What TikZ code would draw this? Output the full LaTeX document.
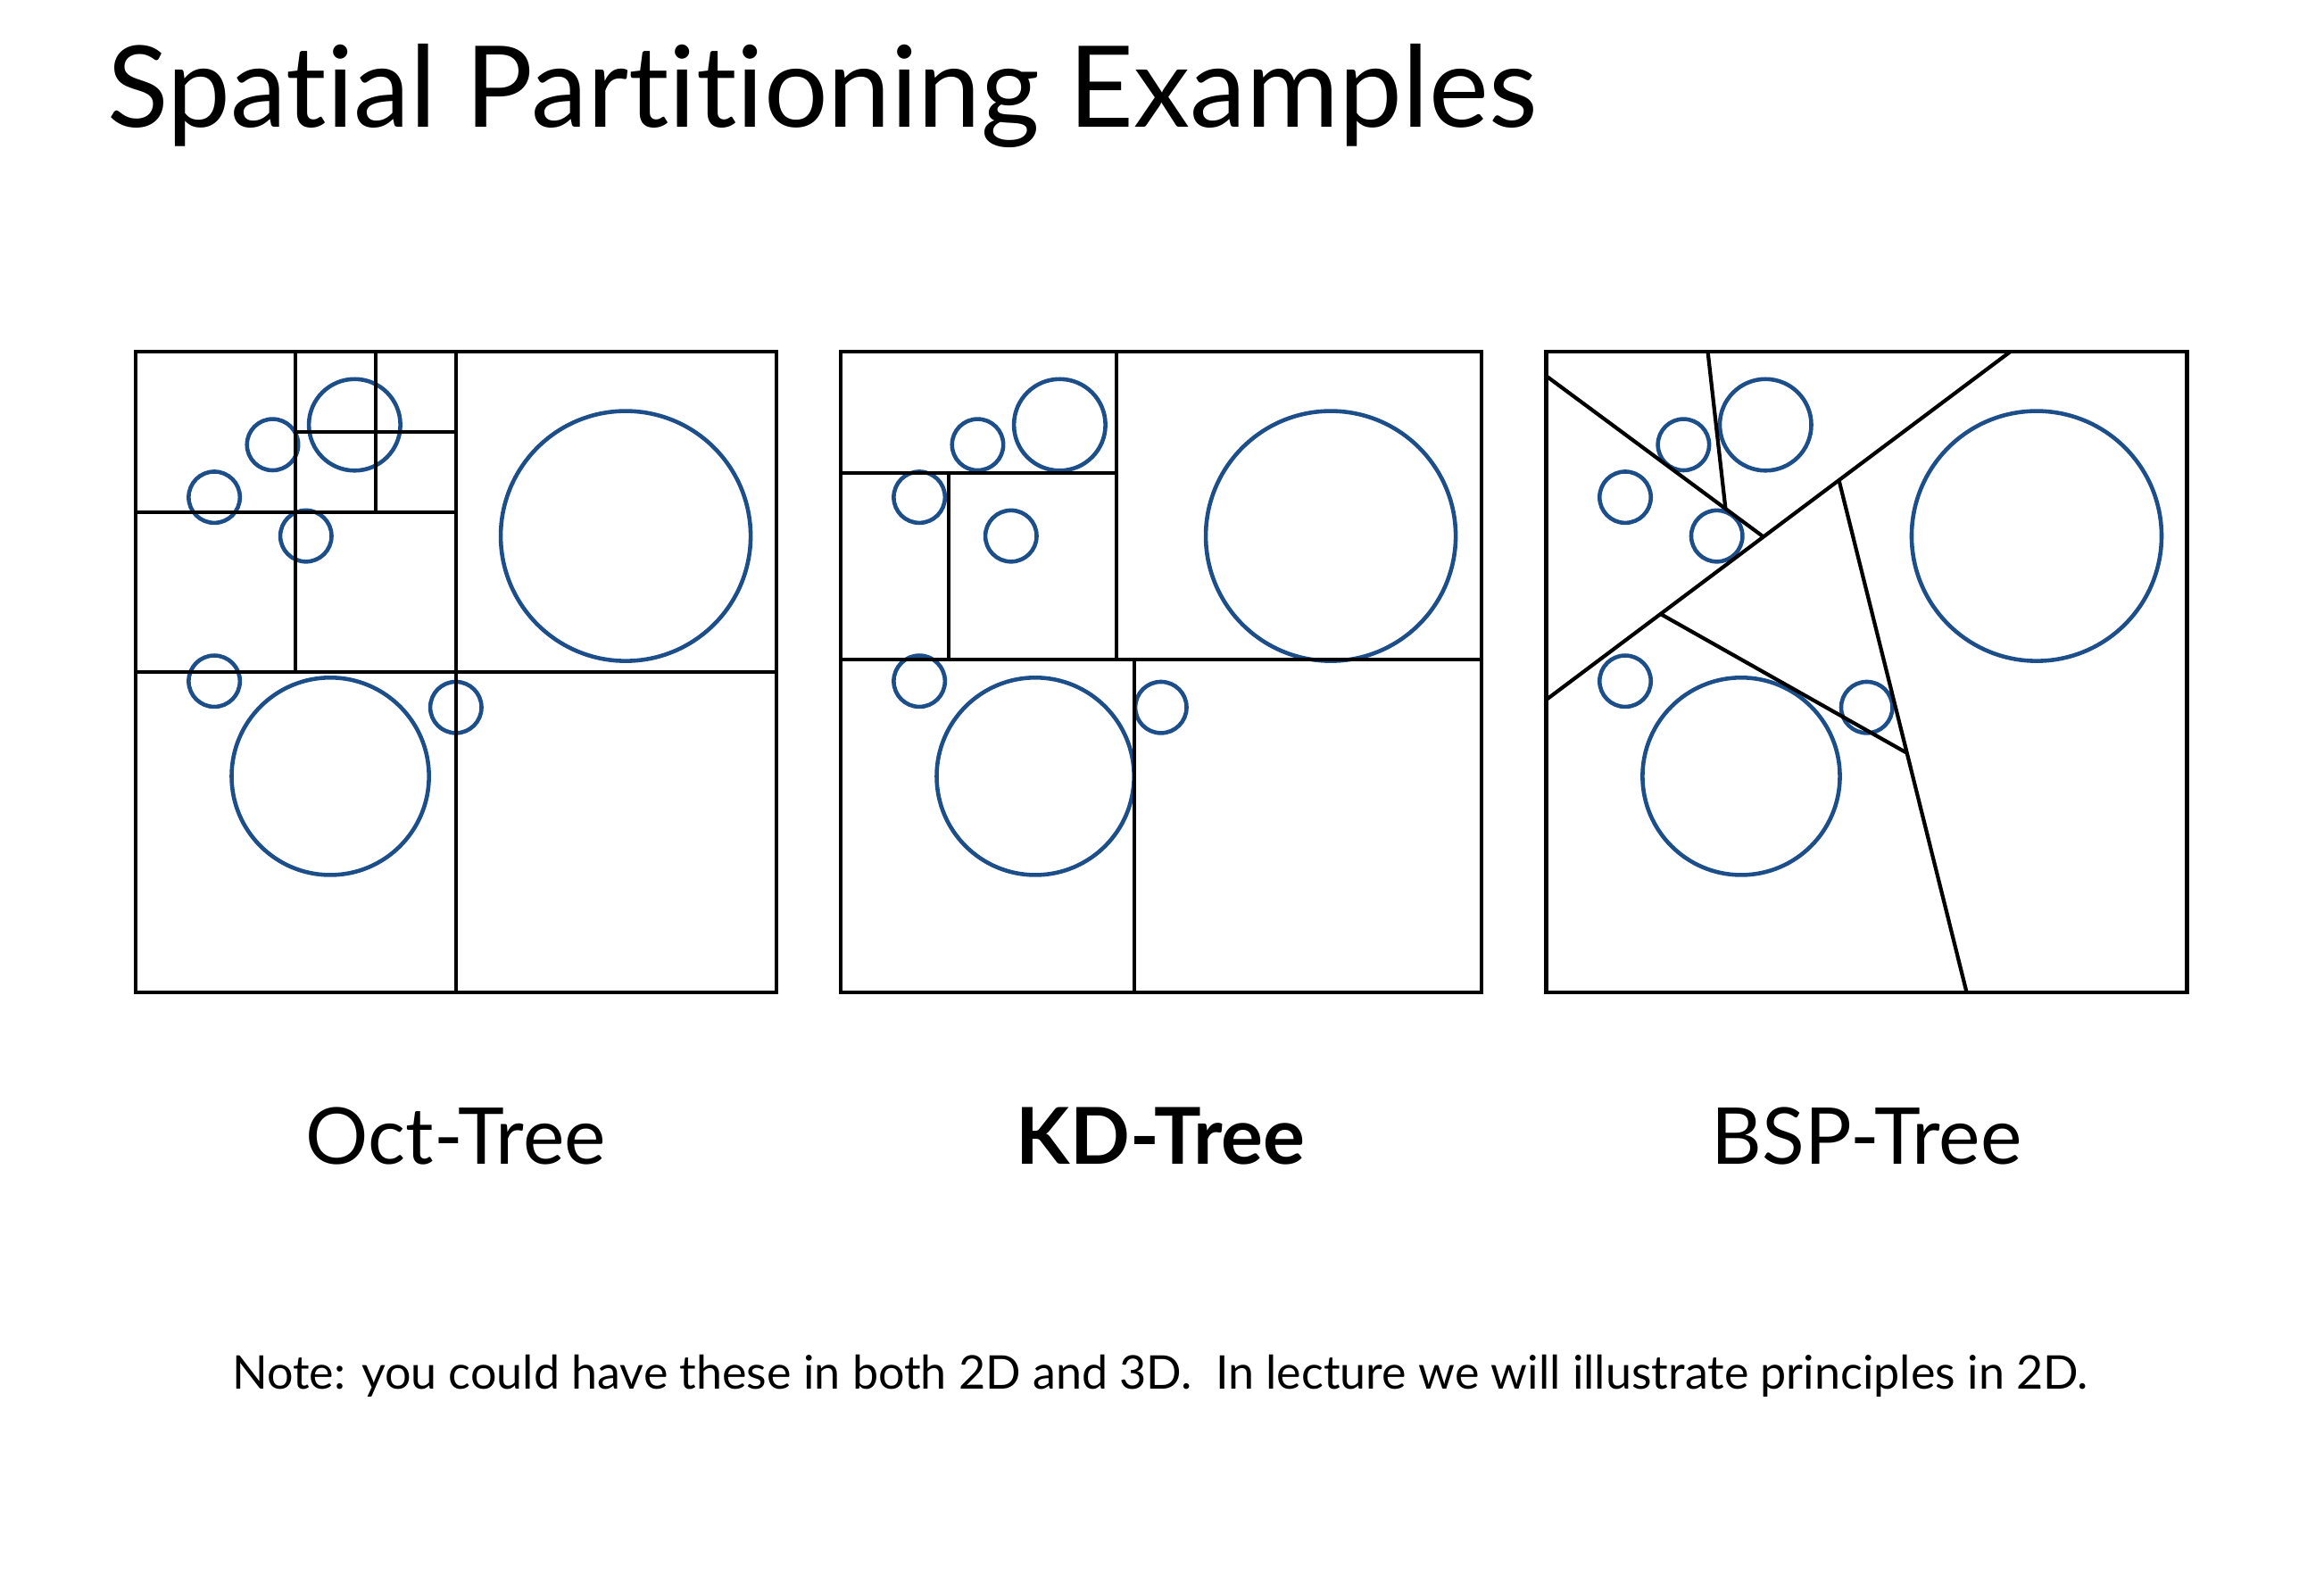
\documentclass[tikz,border=0pt]{standalone}
\usepackage{fontspec}
\setmainfont{Lato}[Ligatures=NoCommon]
\usepackage{xcolor}
\usepackage{tikz}
\usetikzlibrary{calc, positioning}

\definecolor{ballblue}{RGB}{28,78,138}

% the same eight objects sit in every panel (unit square, y downwards)
\newcommand{\drawballs}{%
  \foreach \cx/\cy/\r in {0.765/0.2875/0.195, 0.214/0.145/0.040,
      0.342/0.114/0.0714, 0.123/0.227/0.040, 0.266/0.2875/0.040,
      0.123/0.514/0.040, 0.304/0.6625/0.154, 0.5/0.555/0.040}
    \draw[ball] (\cx,\cy) circle [radius=\r];
}

\begin{document}
\begin{tikzpicture}[
    cell/.style={draw=black, line width=1.3pt},
    split/.style={draw=black, line width=1.2pt},
    ball/.style={draw=ballblue, line width=1.3pt},
    panel/.style={xscale=7.18, yscale=-7.18},
    caption/.style={font=\fontsize{25}{30}\selectfont, anchor=base, inner sep=0pt}
  ]
  \useasboundingbox (0,0) rectangle (26.04,17.84);

  \node[anchor=base west, inner sep=0pt, font=\fontsize{36}{43}\selectfont]
    (title) at (1.195,16.41) {Spatial Partitioning Examples};

  % oct-tree
  \begin{scope}[shift={(1.518,13.898)}, panel]
    \drawballs
    \draw[split] (0.5,0) -- (0.5,1);
    \draw[split] (0,0.5) -- (1,0.5);
    \draw[split] (0.25,0) -- (0.25,0.5);
    \draw[split] (0,0.25) -- (0.5,0.25);
    \draw[split] (0.375,0) -- (0.375,0.25);
    \draw[split] (0.25,0.125) -- (0.5,0.125);
    \draw[cell] (0,0) rectangle (1,1);
  \end{scope}

  % kd-tree
  \begin{scope}[shift={(9.418,13.898)}, panel]
    \drawballs
    \draw[split] (0,0.48) -- (1,0.48);
    \draw[split] (0.431,0) -- (0.431,0.48);
    \draw[split] (0,0.1895) -- (0.431,0.1895);
    \draw[split] (0.169,0.1895) -- (0.169,0.48);
    \draw[split] (0.459,0.48) -- (0.459,1);
    \draw[cell] (0,0) rectangle (1,1);
  \end{scope}

  % bsp-tree
  \begin{scope}[shift={(17.327,13.898)}, panel]
    \drawballs
    \coordinate (a1) at (0,0.543);
    \coordinate (a2) at (0.724,0);
    \coordinate (b1) at (0,0.038);
    \coordinate (b2) at ($(a1)!0.468!(a2)$);
    \coordinate (c1) at (0.252,0);
    \coordinate (c2) at ($(b1)!0.826!(b2)$);
    \coordinate (d1) at ($(a1)!0.631!(a2)$);
    \coordinate (d2) at (0.656,1);
    \coordinate (e1) at ($(a1)!0.246!(a2)$);
    \coordinate (e2) at ($(d1)!0.533!(d2)$);
    \draw[split] (a1) -- (a2);
    \draw[split] (b1) -- (b2);
    \draw[split] (c1) -- (c2);
    \draw[split] (d1) -- (d2);
    \draw[split] (e1) -- (e2);
    \draw[cell] (0,0) rectangle (1,1);
  \end{scope}

  \node[caption] (octlabel) at (5.108,4.79) {Oct-Tree};
  \node[caption, font=\fontsize{25}{30}\selectfont\bfseries] (kdlabel) at (13.008,4.79) {KD-Tree};
  \node[caption] (bsplabel) at (20.916,4.79) {BSP-Tree};

  \node[anchor=base, inner sep=0pt, font=\fontsize{14.8}{18}\selectfont]
    (note) at (13.0,2.273) {Note: you could have these in both 2D and 3D.\ \ In lecture we will illustrate principles in 2D.};
\end{tikzpicture}
\end{document}
